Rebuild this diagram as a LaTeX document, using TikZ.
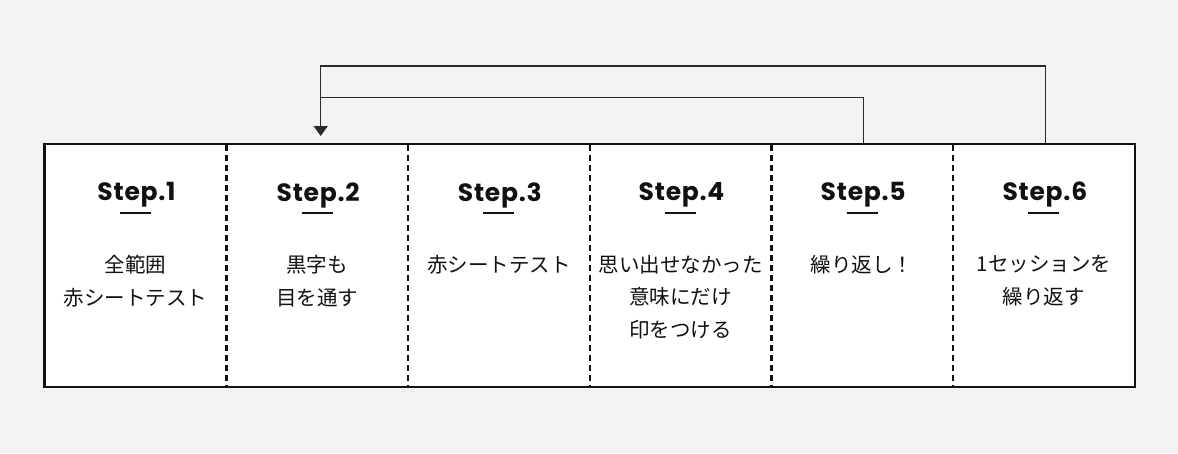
\documentclass[tikz,border=0pt]{standalone}
\usepackage{fontspec}
\setmainfont{Noto Sans CJK JP}
\newfontfamily\titlefont[LetterSpace=3]{Poppins}
\usetikzlibrary{arrows.meta}
\definecolor{bgc}{HTML}{F3F3F3}
\definecolor{ink}{HTML}{111111}
\definecolor{connc}{HTML}{2A2A2A}
\tikzset{
  cellbox/.style={minimum width=181.667pt, minimum height=242.5pt, inner sep=0pt, anchor=north west},
  titlestyle/.style={font=\titlefont\bfseries\fontsize{25}{28}\selectfont, text=ink, inner sep=0pt},
  bodystyle/.style={font=\fontsize{20.5}{32.6}\selectfont, text=ink, align=center, inner sep=0pt, anchor=north},
  divider/.style={line width=2.4pt, dash pattern=on 6pt off 4pt, draw=ink},
  conn/.style={line width=1.3pt, draw=connc},
  uline/.style={line width=2pt, draw=ink}
}
\begin{document}
\begin{tikzpicture}[x=1pt,y=-1pt]
\useasboundingbox (0,0) rectangle (1178,453);
\fill[bgc] (0,0) rectangle (1178,453);
\fill[white] (44.5,144) rectangle (1134.5,386.5);
\foreach \i in {1,...,6} {
  \node[cellbox] (c\i) at ({44.5+181.667*(\i-1)},144) {};
}
\foreach \i/\j in {1/2,2/3,3/4,4/5,5/6} {
  \draw[divider] ([yshift=-1]c\i.north east) -- (c\i.south east);
}
\draw[line width=2.2pt, draw=ink] (c1.north west) rectangle (c6.south east);
\foreach \i in {1,...,6} {
  \node[titlestyle] (t\i) at ([xshift=1,yshift=-51]c\i.north) {Step.\i};
  \draw[uline] ([xshift=-15.5, yshift=-68.5]c\i.north) -- ([xshift=15.5, yshift=-68.5]c\i.north);
}
\node[bodystyle] (b1) at ([yshift=-111]c1.north) {全範囲\\赤シートテスト};
\node[bodystyle] (b2) at ([yshift=-111]c2.north) {黒字も\\目を通す};
\node[bodystyle] (b3) at ([yshift=-111]c3.north) {赤シートテスト};
\node[bodystyle] (b4) at ([yshift=-111]c4.north) {思い出せなかった\\意味にだけ\\印をつける};
\node[bodystyle] (b5) at ([yshift=-111]c5.north) {繰り返し！};
\node[bodystyle] (b6) at ([yshift=-111]c6.north) {1セッションを\\繰り返す};
\coordinate (top6) at (1045.3,66);
\coordinate (top5) at (863.3,97.3);
\coordinate (tip) at (320.7,136);
\draw[conn, -{Triangle[width=14pt,length=10pt]}] (top6 |- c6.north) -- (top6) -| (tip);
\draw[conn] (top5 |- c5.north) -- (top5) -- (top5 -| tip);
\end{tikzpicture}
\end{document}
